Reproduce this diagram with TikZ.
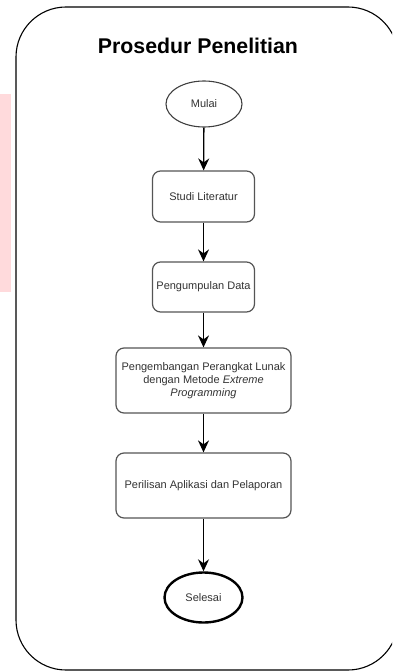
\documentclass[tikz,border=0pt]{standalone}
\usepackage{fontspec}
\setmainfont{Liberation Sans}
\usetikzlibrary{shapes.geometric,arrows.meta}

\definecolor{boxline}{HTML}{555555}
\definecolor{boxtext}{HTML}{333333}
\definecolor{sidepink}{HTML}{FFDADC}

\tikzset{
  stepbox/.style={draw=boxline, line width=1.2pt, rounded corners=8pt,
    fill=white, inner sep=2pt, align=center, text=boxtext,
    font=\fontsize{11}{13.2}\selectfont},
  startnode/.style={ellipse, draw=black!75, line width=1.1pt, inner sep=0pt,
    text=boxtext, font=\fontsize{11}{13.2}\selectfont},
  endnode/.style={ellipse, draw=black, line width=2.4pt, inner sep=0pt,
    text=boxtext, font=\fontsize{11}{13.2}\selectfont},
  flow/.style={draw=black, line width=1.3pt,
    -{Stealth[length=12pt, width=11pt, inset=4pt]}},
}

\begin{document}
\begin{tikzpicture}[x=1pt, y=-1pt]
  \useasboundingbox (0,0) rectangle (392,671);
  \clip (0,0) rectangle (392,671);

  % side marker
  \fill[sidepink] (0,94) rectangle (11,292);

  % container
  \draw[black, line width=1.1pt, rounded corners=50pt] (16,7) rectangle (398,670);

  % title
  \node (title) at (198,46) {\fontsize{21.3}{25}\selectfont\bfseries Prosedur Penelitian};

  % steps
  \node[startnode, minimum width=76pt, minimum height=46pt] (mulai) at (204,104) {Mulai};
  \node[stepbox, minimum width=102pt, minimum height=51pt] (studi) at (203.5,196.5) {Studi Literatur};
  \node[stepbox, minimum width=102pt, minimum height=50pt] (data) at (203.5,287) {Pengumpulan Data};
  \node[stepbox, minimum width=175pt, minimum height=65pt] (dev) at (203.5,380.5)
    {Pengembangan Perangkat Lunak\\dengan Metode \textit{Extreme}\\\textit{Programming}};
  \node[stepbox, minimum width=175pt, minimum height=65pt] (rilis) at (203.5,485.5)
    {Perilisan Aplikasi dan Pelaporan};
  \node[endnode, minimum width=78pt, minimum height=50pt] (selesai) at (203.5,597.5) {Selesai};

  % connectors
  \draw[flow] (mulai) -- (studi);
  \draw[flow] (studi) -- (data);
  \draw[flow] (data) -- (dev);
  \draw[flow] (dev) -- (rilis);
  \draw[flow] (rilis) -- (selesai);
\end{tikzpicture}
\end{document}
